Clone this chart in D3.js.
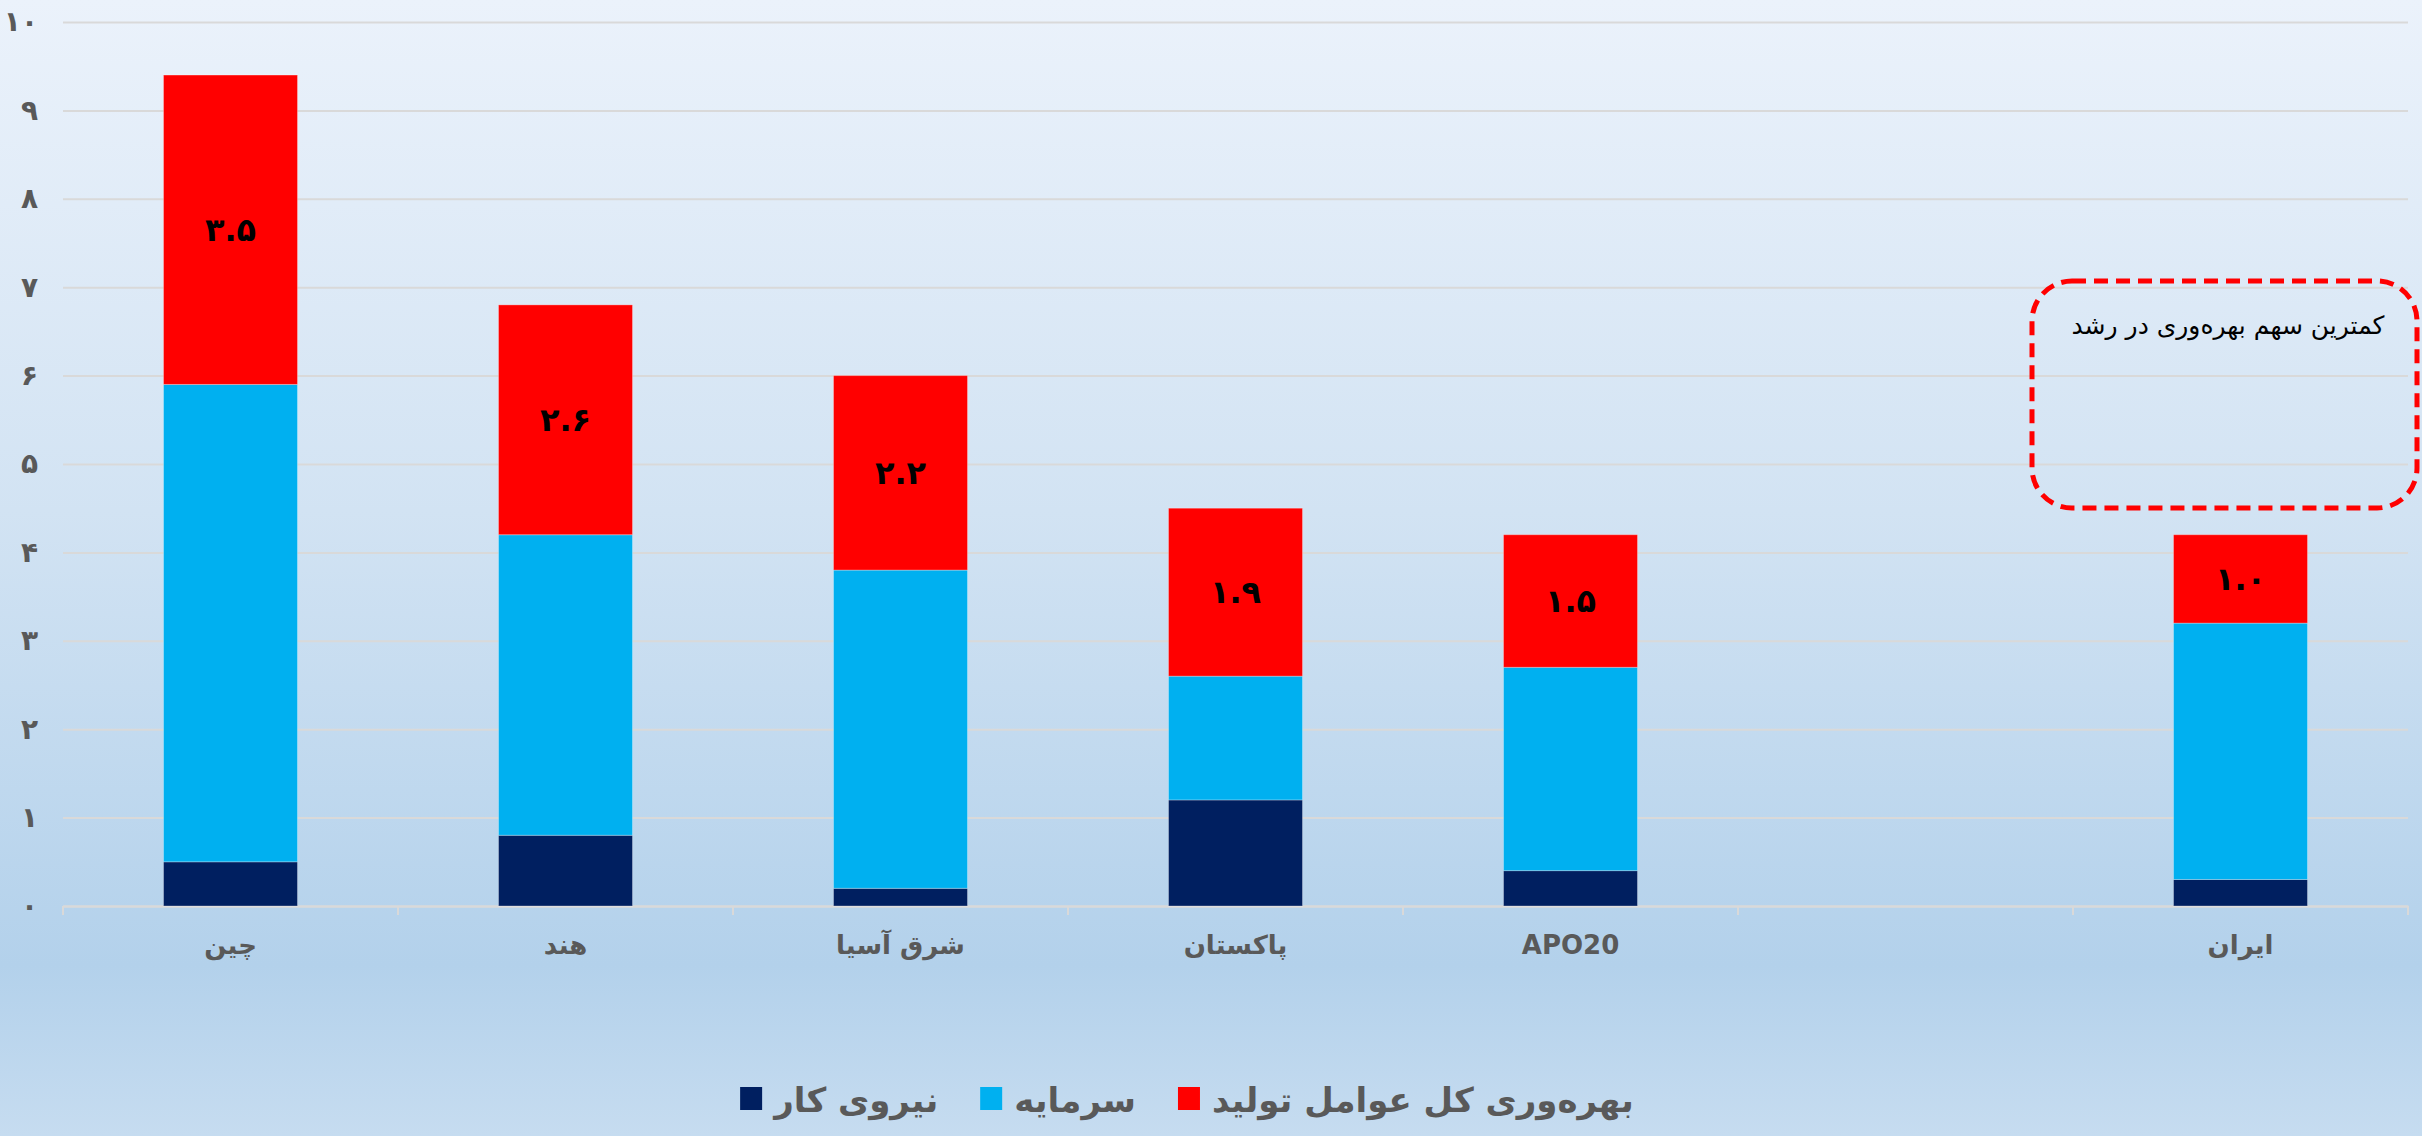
<!DOCTYPE html>
<html lang="fa">
<head>
	<meta charset="utf-8">
	<title>Growth decomposition</title>
	<style>
		body { margin: 0; }
		svg { display: block; }
		text { font-family: "DejaVu Sans", sans-serif; }
	</style>
	<script type="text/javascript" src="https://d3js.org/d3.v7.min.js"></script>
</head>
<body>
	<script type="text/javascript">
            var categories = ["چین", "هند", "شرق آسیا", "پاکستان", "APO20", " ", "ایران"];
            var labor   = [0.5, 0.8, 0.2, 1.2, 0.4, null, 0.3];
            var capital = [5.4, 3.4, 3.6, 1.4, 2.3, null, 2.9];
            var tfp     = [3.5, 2.6, 2.2, 1.9, 1.5, null, 1.0];
            var yTicks = [0, 1, 2, 3, 4, 5, 6, 7, 8, 9, 10];
            var seriesNames = ["نیروی کار", "سرمایه", "بهره‌وری کل عوامل تولید"];
            var seriesColors = ["#001f60", "#00b0f0", "#ff0000"];
            var note = "کمترین سهم بهره‌وری در رشد";

            var w = 2422;
            var h = 1136;
            var plotL = 63, plotR = 2408, plotT = 22, plotB = 906;

            var fa = s => String(s).replace(/\d/g, d => "۰۱۲۳۴۵۶۷۸۹"[d]);

            var rows = categories.map((c, i) => ({ cat: c, labor: labor[i], capital: capital[i], tfp: tfp[i] }));
            var keys = ["labor", "capital", "tfp"];
            var stacked = d3.stack().keys(keys).value((d, k) => d[k] || 0)(rows);

            var svg = d3.select("body")
                .append("svg")
                .attr("width", w)
                .attr("height", h);

            var grad = svg.append("defs")
                .append("linearGradient")
                .attr("id", "bg")
                .attr("x1", 0).attr("y1", 0).attr("x2", 0).attr("y2", 1);
            grad.append("stop").attr("offset", "0%").attr("stop-color", "#ebf2fb");
            grad.append("stop").attr("offset", "45%").attr("stop-color", "#d2e3f3");
            grad.append("stop").attr("offset", "85%").attr("stop-color", "#b3d1eb");
            grad.append("stop").attr("offset", "100%").attr("stop-color", "#c6dcf0");
            svg.append("rect")
                .attr("width", w)
                .attr("height", h)
                .attr("fill", "url(#bg)");

            var xScale = d3.scaleBand()
                .domain(categories)
                .range([plotL, plotR])
                .paddingInner(0.6)
                .paddingOuter(0.3);
            var yScale = d3.scaleLinear()
                .domain([0, 10])
                .range([plotB, plotT]);

            // gridlines + y labels
            var yAxis = d3.axisLeft(yScale)
                .tickValues(yTicks)
                .tickFormat(fa)
                .tickSize(-(plotR - plotL))
                .tickPadding(25);
            var gy = svg.append("g")
                .attr("transform", "translate(" + plotL + ",0)")
                .call(yAxis);
            gy.select(".domain").remove();
            gy.selectAll(".tick line")
                .attr("stroke", "#d9d9d9")
                .attr("stroke-width", 2);
            gy.selectAll(".tick text")
                .attr("fill", "#595959")
                .attr("font-size", "28px")
                .attr("font-weight", "bold");

            // x axis
            var step = xScale.step();
            var edge = (step - xScale.bandwidth()) / 2;
            var xAxis = d3.axisBottom(xScale)
                .tickSize(0)
                .tickPadding(30);
            var gx = svg.append("g")
                .attr("transform", "translate(0," + plotB + ")")
                .call(xAxis);
            gx.select(".domain")
                .attr("stroke", "#d9d9d9")
                .attr("stroke-width", 2);
            gx.selectAll(".tick text")
                .attr("fill", "#595959")
                .attr("font-size", "26px")
                .attr("font-weight", "bold");
            gx.selectAll("line.sep")
                .data(categories.concat(["end"]))
                .enter()
                .append("line")
                .attr("class", "sep")
                .attr("x1", (d, i) => i < categories.length ? xScale(d) - edge : plotR)
                .attr("x2", (d, i) => i < categories.length ? xScale(d) - edge : plotR)
                .attr("y1", 0)
                .attr("y2", 9)
                .attr("stroke", "#d9d9d9")
                .attr("stroke-width", 2);

            // bars
            svg.append("g")
                .selectAll("g")
                .data(stacked)
                .enter()
                .append("g")
                .attr("fill", (d, i) => seriesColors[i])
                .selectAll("rect")
                .data(d => d.filter(p => p.data.labor != null))
                .enter()
                .append("rect")
                .attr("x", d => xScale(d.data.cat))
                .attr("y", d => yScale(d[1]))
                .attr("width", xScale.bandwidth())
                .attr("height", d => yScale(d[0]) - yScale(d[1]))
                .attr("stroke", "rgba(255,255,255,0.3)")
                .attr("stroke-width", 1);

            // tfp labels
            svg.append("g")
                .selectAll("text")
                .data(stacked[2].filter(p => p.data.tfp != null))
                .enter()
                .append("text")
                .text(d => fa(d.data.tfp.toFixed(1)))
                .attr("x", d => xScale(d.data.cat) + xScale.bandwidth() / 2)
                .attr("y", d => (yScale(d[0]) + yScale(d[1])) / 2)
                .attr("dy", "0.35em")
                .attr("text-anchor", "middle")
                .attr("font-size", "32px")
                .attr("font-weight", "bold")
                .attr("fill", "#000");

            // note box
            svg.append("rect")
                .attr("x", 2032)
                .attr("y", 281)
                .attr("width", 385)
                .attr("height", 227)
                .attr("rx", 40)
                .attr("fill", "none")
                .attr("stroke", "#ff0000")
                .attr("stroke-width", 5)
                .attr("stroke-dasharray", "14 8");
            svg.append("text")
                .text(note)
                .attr("x", 2228)
                .attr("y", 334)
                .attr("text-anchor", "middle")
                .attr("font-size", "25px")
                .attr("fill", "#000");

            // legend
            var legend = svg.append("g");
            var items = legend.selectAll("g")
                .data(seriesNames)
                .enter()
                .append("g");
            items.append("rect")
                .attr("width", 22)
                .attr("height", 23)
                .attr("y", 1087)
                .attr("fill", (d, i) => seriesColors[i]);
            items.append("text")
                .text(d => d)
                .attr("x", 34)
                .attr("y", 1112)
                .attr("font-size", "34px")
                .attr("font-weight", "bold")
                .attr("fill", "#595959");
            var widths = [];
            items.selectAll("text").each(function () { widths.push(34 + this.getComputedTextLength()); });
            var gap = 42;
            var total = d3.sum(widths) + gap * (widths.length - 1);
            var cx = 1187 - total / 2;
            items.attr("transform", (d, i) => {
                var x = cx + d3.sum(widths.slice(0, i)) + gap * i;
                return "translate(" + x + ",0)";
            });
        </script>
</body>
</html>
